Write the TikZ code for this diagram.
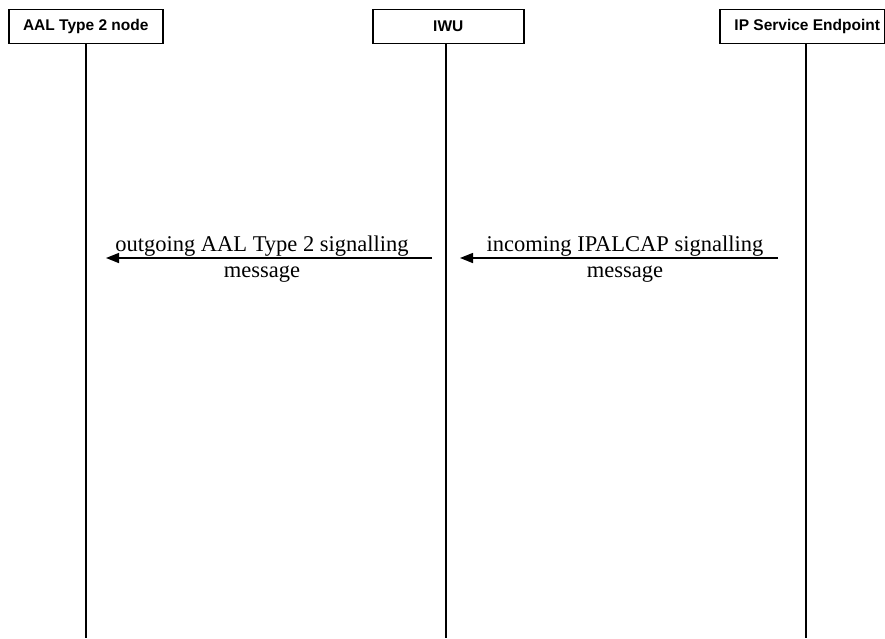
\documentclass[tikz,border=0pt]{standalone}
\usepackage{fontspec}
\setmainfont{Liberation Serif}
\setsansfont{Liberation Sans}
\usetikzlibrary{arrows.meta}
\begin{document}
\begin{tikzpicture}[x=1pt,y=-1pt,
  entity/.style={draw,line width=1.5pt,minimum height=34pt,inner sep=0pt,
    anchor=north west,font=\sffamily\bfseries\fontsize{15.5}{18}\selectfont},
  lifeline/.style={line width=1.5pt},
  msg/.style={line width=1.5pt,-{Triangle[length=13pt,width=10pt]}},
  msglabel/.style={align=center,inner sep=0pt,font=\fontsize{22.5}{26}\selectfont}]
\useasboundingbox (0,0) rectangle (885,638);

% participants
\node[entity,minimum width=154pt] (aal) at (8,8.5) {AAL Type 2 node};
\node[entity,minimum width=151pt] (iwu) at (372,8.5) {IWU};
\node[entity,minimum width=165pt] (ip) at (719,8.5) {\hspace*{10pt}IP Service Endpoint};

% lifeline ends
\coordinate (aalend) at (86,638);
\coordinate (iwuend) at (446,638);
\coordinate (ipend) at (806,638);
\draw[lifeline] (aal.south -| aalend) -- (aalend);
\draw[lifeline] (iwu.south -| iwuend) -- (iwuend);
\draw[lifeline] (ip.south -| ipend) -- (ipend);

% message end points
\coordinate (m1from) at (432,258);
\coordinate (m1to) at (106,258);
\coordinate (m2from) at (778,258);
\coordinate (m2to) at (460,258);

\draw[msg] (m1from) -- (m1to);
\draw[msg] (m2from) -- (m2to);

\node[msglabel] (m1label) at (262,259) {outgoing AAL Type 2 signalling\\message};
\node[msglabel] (m2label) at (625,259) {incoming IPALCAP signalling\\message};
\end{tikzpicture}
\end{document}
